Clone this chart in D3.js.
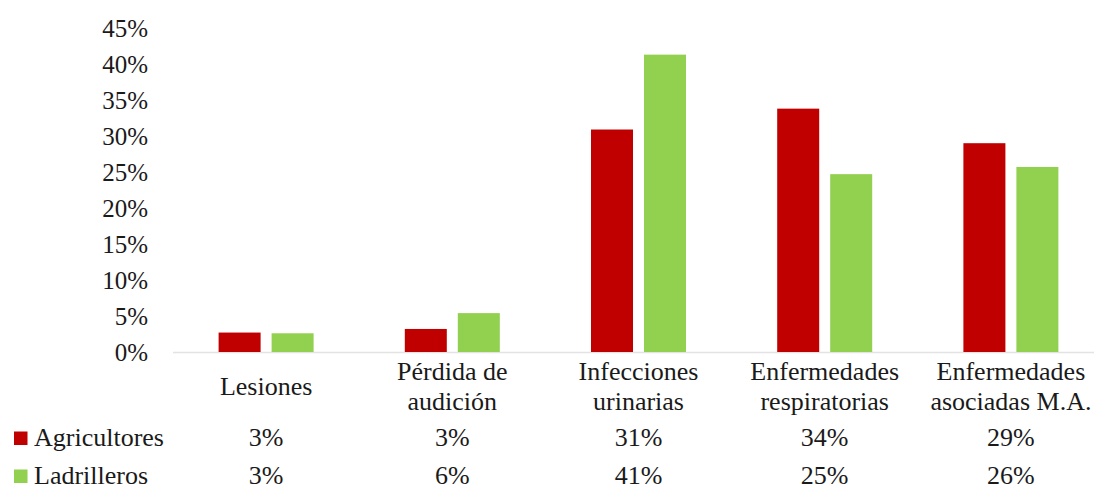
<!DOCTYPE html>
<html>
<head>
<meta charset="utf-8">
<script src="https://cdn.jsdelivr.net/npm/d3@7"></script>
<style>
  body { margin: 0; background: #fff; }
  svg, svg text { font-family: "Liberation Serif", "DejaVu Serif", serif; fill: #1a1a1a; }
</style>
</head>
<body>
<svg></svg>
<script>
/* data */
var categories = ["Lesiones", "Pérdida de\naudición", "Infecciones\nurinarias", "Enfermedades\nrespiratorias", "Enfermedades\nasociadas M.A."];
var series = ["Agricultores", "Ladrilleros"];
var agricultores = [2.7, 3.2, 30.9, 33.8, 29.0];
var ladrilleros = [2.6, 5.4, 41.3, 24.7, 25.7];
var agricultoresLabels = ["3%", "3%", "31%", "34%", "29%"];
var ladrillerosLabels = ["3%", "6%", "41%", "25%", "26%"];
var yTicks = [0, 5, 10, 15, 20, 25, 30, 35, 40, 45];
var colors = ["#C00000", "#92D050"];

/* svg setting */
var svgWidth = 1094;
var svgHeight = 489;
var tickFontSize = 25;
var fontSize = 26;
var serif = "'Liberation Serif', 'DejaVu Serif', serif";

var svg = d3.select("svg")
    .attr("width", svgWidth)
    .attr("height", svgHeight)
    .attr("font-family", serif);

var scale = {};
scale.x0 = d3.scaleBand().domain(d3.range(categories.length)).range([173, 1104]).padding(0);
scale.x1 = d3.scaleBand().domain(series).range([0, 95]).paddingInner(0.2075);
scale.y = d3.scaleLinear().domain([0, 45]).range([352, 28]);

var values = [agricultores, ladrilleros];
var labels = [agricultoresLabels, ladrillerosLabels];

function translate(x, y) {
  return "translate(" + x + "," + y + ")";
}

/* y axis */
var yAxis = svg.append("g")
    .attr("transform", translate(148, 0))
    .call(d3.axisLeft(scale.y).tickValues(yTicks).tickSize(0).tickPadding(0)
      .tickFormat(function(d){ return d + "%"; }));
yAxis.attr("font-family", serif).attr("font-size", tickFontSize);
yAxis.select(".domain").remove();
yAxis.selectAll("text")
    .attr("dy", "0.33em")
    .attr("font-family", serif)
    .attr("font-size", tickFontSize)
    .attr("fill", "#1a1a1a");

/* baseline */
svg.append("line")
    .attr("x1", 173).attr("x2", svgWidth)
    .attr("y1", scale.y(0) + 0.5).attr("y2", scale.y(0) + 0.5)
    .attr("stroke", "#e3e3e3")
    .attr("stroke-width", 1.5);

/* bars */
var offset = scale.x0.bandwidth() / 2 - 47.5;
series.forEach(function(s, si){
  svg.append("g").selectAll("rect")
      .data(values[si])
      .enter()
      .append("rect")
      .attr("x", function(d, i){ return scale.x0(i) + offset + scale.x1(s); })
      .attr("y", function(d){ return scale.y(d); })
      .attr("width", scale.x1.bandwidth())
      .attr("height", function(d){ return scale.y(0) - scale.y(d); })
      .attr("fill", colors[si]);
});

/* category labels */
var catG = svg.append("g");
categories.forEach(function(c, i){
  var lines = c.split("\n");
  var cx = scale.x0(i) + scale.x0.bandwidth() / 2;
  var y0 = lines.length === 1 ? 395 : 380;
  var t = catG.append("text")
      .attr("text-anchor", "middle")
      .attr("font-family", serif)
      .attr("font-size", fontSize);
  lines.forEach(function(l, li){
    t.append("tspan").attr("x", cx).attr("y", y0 + li * 30).text(l);
  });
});

/* data table rows */
var rowY = [446, 484];
series.forEach(function(s, si){
  var row = svg.append("g");
  row.append("rect")
      .attr("x", 14).attr("y", rowY[si] - 14.5)
      .attr("width", 13.5).attr("height", 13.5)
      .attr("fill", colors[si]);
  row.append("text")
      .attr("x", 34).attr("y", rowY[si])
      .attr("font-family", serif)
      .attr("font-size", fontSize)
      .text(s);
  row.selectAll("text.val")
      .data(labels[si])
      .enter()
      .append("text")
      .attr("class", "val")
      .attr("x", function(d, i){ return scale.x0(i) + scale.x0.bandwidth() / 2; })
      .attr("y", rowY[si])
      .attr("text-anchor", "middle")
      .attr("font-family", serif)
      .attr("font-size", fontSize)
      .text(function(d){ return d; });
});
</script>
</body>
</html>
